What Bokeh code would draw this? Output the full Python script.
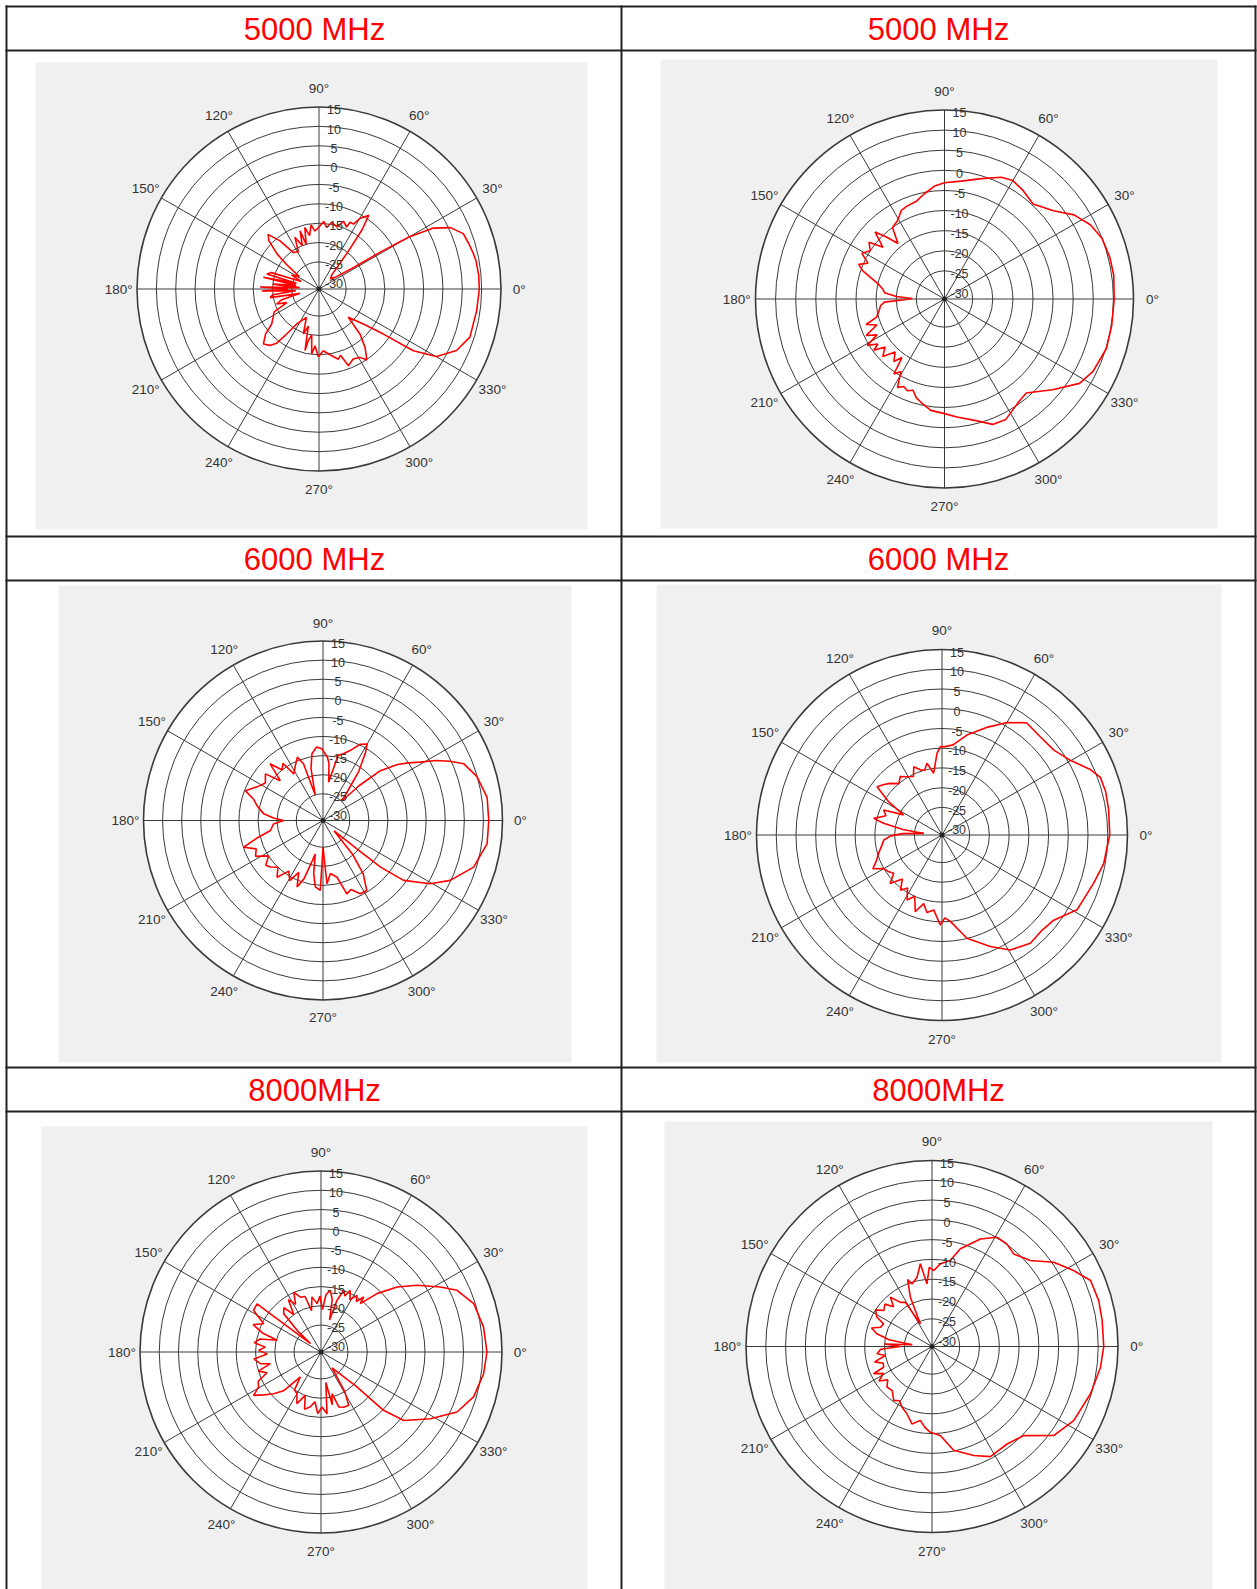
import numpy as np
from bokeh.plotting import figure
from bokeh.models import Range1d
from bokeh.core.properties import value
from bokeh.embed import file_html
from bokeh.resources import INLINE

# ---------------- data ----------------
titles = ["5000 MHz", "5000 MHz", "6000 MHz", "6000 MHz", "8000MHz", "8000MHz"]
ring_db = [15, 10, 5, 0, -5, -10, -15, -20, -25]
rlabel_db = [15, 10, 5, 0, -5, -10, -15, -20, -25, -30]
angle_ticks = [0, 30, 60, 90, 120, 150, 180, 210, 240, 270, 300, 330]
R_MIN, R_MAX = -32, 15

ang_5000_a = [0, 5, 10, 13, 17, 21, 25, 28, 30, 31, 32, 36, 42, 48, 52, 54, 56, 60, 62, 65,
              66, 70, 74, 79, 83, 86, 90, 94, 97, 100, 103, 106, 108, 111, 115, 119, 125, 129, 133, 136,
              140, 143, 148, 153, 157, 161, 164, 166, 168, 171, 174, 176, 178, 180, 182, 184, 187, 190, 193, 196,
              199.5, 203, 207, 212, 216.5, 220, 224.7, 229, 232, 234.3, 237.5, 241.3, 246, 250.8, 254, 257.2, 258.3, 261, 263.6, 266,
              269.4, 274, 279.5, 285.4, 288, 291, 296, 301, 304, 308.3, 312.3, 316, 321.7, 325, 326.8, 330.1, 335.9, 342.3, 352.2, 360]
db_5000_a = [9.4, 9.4, 9.2, 8.9, 8.4, 7.9, 5.5, 1.5, -5, -13, -22, -27, -28, -27, -20, -13, -9, -11, -13, -13,
             -14.5, -13.4, -15.3, -14.5, -16, -14.5, -16, -17, -15.3, -18, -15.7, -20, -16.2, -20, -17.3, -21, -20.5, -16, -12.7, -14,
             -17.8, -21.5, -26, -24, -27, -19, -18, -26, -17.3, -26, -20, -27, -16.8, -24, -17.2, -26, -20, -19.2, -27, -22,
             -20.4, -23, -19, -18, -16.8, -14, -11.8, -12.7, -14.2, -17.7, -21.3, -22.7, -24, -19.7, -22, -15.7, -18.4, -20, -15.1, -17.3,
             -14.5, -16, -14.8, -13.2, -14, -10.8, -11.9, -11.4, -9.9, -12.8, -16.3, -21.5, -17.4, -11.7, -2.9, 3.0, 6.9, 8.9, 9.1, 9.4]

ang_5000_b = [0, 8, 14, 21, 27, 33, 39, 47, 54, 60, 65, 73, 82, 90, 95, 101, 106, 112, 116, 121,
              126, 130, 133, 136, 140, 143, 147, 151, 155, 158, 161, 164, 167, 171, 174, 177, 179, 181, 183, 186,
              190, 195, 198, 201, 205, 208, 211, 214, 216, 219, 223, 227, 231, 234, 236, 239, 242, 245, 248, 251,
              254, 257, 263, 270, 276, 284, 291, 297, 302, 306, 311, 316, 320, 328, 334, 343, 351, 360]
db_5000_b = [10.2, 10.5, 10.4, 10.0, 8.7, 6.4, 2.9, 0.3, 1.3, 2.0, 1.4, -0.7, -2.4, -3.1, -3.8, -5.4, -6.7, -7.1, -7.5, -9.3,
             -10, -14, -11, -8, -12, -8.5, -10, -8.5, -11, -9, -10.5, -13, -15, -16.5, -17, -20, -24, -22, -17, -16,
             -15.5, -14.5, -11.5, -14, -10.5, -13, -9.6, -12, -10.3, -13, -11, -14, -12, -14, -9.5, -11, -7.1, -8, -7.4, -8,
             -6.5, -5.7, -4.1, -3.5, -2.5, -0.9, 1.4, 1.6, 0.3, -0.5, -1.0, 1, 3.1, 7.6, 9.1, 10.1, 10.1, 10.2]

ang_6000_a = [0, 8, 16, 22, 25, 28, 31, 34, 37, 41, 44, 46, 50, 54, 58, 60, 64, 68, 73, 77,
              81.6, 84, 86, 91, 95, 99.4, 103, 107, 109, 112, 117, 122, 125, 129, 133, 137, 141, 147, 153, 159,
              163, 168, 173.6, 177, 180, 184, 190.8, 195, 198.6, 203, 208, 213, 218, 221.5, 226, 231, 236, 241, 245, 248.7,
              252, 255, 257, 260, 263.4, 267.8, 270, 273.6, 278, 283.9, 288, 292, 297, 302, 307, 311, 317, 320, 321, 323.4,
              329.5, 334.8, 342.8, 352, 360]
db_6000_a = [11.4, 11.4, 9.9, 7.7, 4.7, 1.5, -2.3, -5, -7.6, -12.1, -19, -25, -22, -16, -11, -8.9, -9.8, -12, -13.7, -14.5,
             -21.9, -17, -15.4, -13.2, -12.7, -14.3, -18, -25, -16.3, -14.1, -16, -17.6, -13.7, -15, -11.7, -16.7, -12.6, -14, -12.6, -10.2,
             -13, -14.5, -16.4, -19, -21.7, -19, -18, -14, -10.1, -13, -12, -15, -13, -13.6, -15, -12.9, -16, -14, -17, -13.3,
             -16, -21, -23, -18, -14.5, -13.7, -25, -15.4, -18, -16.7, -11.8, -12.5, -10.5, -10.4, -14.5, -20, -28, -20, -12.6, -5.7,
             0.6, 4.8, 9.3, 11.4, 11.4]

ang_6000_b = [0, 8.5, 15, 20, 24, 30, 37, 45, 53, 60, 67, 76, 83, 88, 91, 93.5, 97.7, 101.8, 105, 108.4,
              112.5, 116, 121, 125.5, 130, 135, 139, 143.4, 148, 152.4, 156.8, 161, 166.3, 168.7, 172, 175, 178, 181, 184.9, 190,
              196, 202, 206, 210, 214, 218.4, 223, 228, 233, 237, 241.7, 246, 250.8, 255, 259, 263.7, 268.9, 272, 275.5, 283.6,
              293.4, 300.7, 309.2, 316, 322.7, 331, 342.3, 350, 360]
db_6000_b = [10.5, 10.7, 10.9, 10.7, 9.0, 5.7, 3.6, 3.2, 3.6, 0.9, -2.3, -5.9, -9.0, -9.6, -9.6, -11.3, -16.2, -13.4, -15, -14.6,
             -13.3, -15.5, -14.8, -13.8, -15, -13.5, -12.5, -11.5, -16, -21, -15.9, -17, -14.2, -16.9, -22, -27.4, -22, -19, -17.2, -16.5,
             -15.3, -14, -12.5, -15, -15.5, -16.4, -14, -17, -14.5, -16, -13.3, -15, -11.4, -14, -12, -12.9, -9.2, -11, -10, -5.1,
             -1.2, 1.9, 3.4, 3.0, 3.6, 7.1, 8.3, 9.6, 10.5]

ang_8000_a = [0, 8.7, 17.6, 24.4, 28.6, 34.8, 40.5, 46.2, 50.9, 52.2, 55, 57.6, 61, 64.6, 67, 69.8, 72.8, 75, 78, 81.4,
              85, 88, 91, 94.7, 99.3, 103, 106, 110.6, 114.5, 118, 122, 126, 130, 134.2, 138, 141, 143, 148.3, 153.7, 158,
              162, 165, 168, 172, 175, 178.5, 182, 186, 190.9, 193, 197, 201, 205, 209.3, 212.8, 217, 221.4, 226, 230.4, 235,
              240, 245, 250, 254, 259, 263, 267, 271, 275.6, 279, 282, 284.8, 288, 292.4, 297.4, 301, 305, 310, 315.8, 317,
              320.4, 328.6, 336.2, 343.6, 352.4, 360]
db_8000_a = [11.1, 10.7, 9.6, 6.8, 3.3, -1.6, -6.0, -11.0, -15.8, -13.9, -16, -14.6, -16.5, -14.3, -16.2, -14.9, -18, -23.4, -18, -15.8,
             -17, -21, -17.5, -19.4, -17.5, -21, -17, -16.8, -14.9, -18, -16, -20, -17, -18.1, -24, -28.5, -11.2, -11.4, -15.4, -13,
             -16, -20.2, -15.8, -14.5, -17.5, -15.8, -18, -14.5, -16, -18.5, -15, -17, -14, -13.4, -11.2, -13.5, -15.6, -18, -23.6, -20,
             -19.5, -17.2, -20, -16.5, -17.5, -19, -16, -17.7, -15.9, -24, -18, -20.8, -17, -16.5, -16.4, -20, -27, -25, -19, -9.8,
             -4.1, 1.3, 6.6, 9.3, 10.6, 11.1]

ang_8000_b = [0, 8.7, 15.4, 22.6, 28.2, 34.7, 41.2, 48.6, 53.9, 59.3, 65.8, 73.8, 78, 84.2, 88.7, 92, 94.6, 98, 102.2, 107.7,
              110, 113.7, 117.2, 121, 125.5, 130.2, 134, 138, 143.3, 147, 151.9, 155, 159.5, 163, 167, 171, 175, 177, 180, 183,
              187.6, 191, 195, 199, 203.2, 205, 209, 213, 217, 222, 228, 234.6, 239, 243.7, 249, 255.5, 261, 265, 268.9, 275.3,
              281.8, 291, 297.9, 307.6, 315.8, 323.8, 332.4, 343.4, 353, 360]
db_8000_b = [11.4, 11.5, 11.7, 11.4, 8.6, 5.4, 1.0, -0.8, 0.1, 0.1, -2.2, -6.3, -9.8, -11, -12.8, -12, -16.1, -10.9, -14.1, -15.4,
             -14, -18.4, -25.6, -19, -18.3, -15.7, -18, -16, -16.8, -15, -16.2, -18.5, -18.1, -16, -17.7, -21, -27, -20, -24, -19,
             -18, -20, -17, -19, -18.7, -15.7, -18, -16, -18, -16.7, -17, -15.3, -16, -14.9, -14, -11.8, -13.1, -11.5, -10.3, -9.4,
             -5.2, -2.5, -0.5, -0.9, 0.3, 6.1, 8.4, 9.8, 10.9, 11.4]

patterns = [(ang_5000_a, db_5000_a), (ang_5000_b, db_5000_b),
            (ang_6000_a, db_6000_a), (ang_6000_b, db_6000_b),
            (ang_8000_a, db_8000_a), (ang_8000_b, db_8000_b)]

# ---------------- layout (page pixels) ----------------
W, H = 1257, 1589
OX, OY = 0, 0
FONT = value("Liberation Sans")

col_x = [6, 621, 1255]
row_y = [6, 50, 536, 580, 1067, 1111]
header_cy = [29, 559, 1090]
col_cx = [314, 938]
panels = [(35, 587, 62, 529), (660, 1217, 59, 528),
          (58, 571, 585, 1062), (656, 1221, 584, 1062),
          (41, 587, 1126, 1600), (664, 1212, 1121, 1600)]
polar_geo = [(318.5, 288.5, 182), (944, 298.5, 189),
             (322.5, 820, 179.5), (941.5, 834.5, 185.5),
             (320.5, 1351.5, 181), (931.5, 1346, 186)]

p = figure(width=W, height=H, x_range=Range1d(OX, OX + W), y_range=Range1d(OY + H, OY),
           output_backend="svg", toolbar_location=None, min_border=0,
           x_axis_location=None, y_axis_location=None)
p.outline_line_color = None
p.background_fill_color = "white"
p.border_fill_color = "white"
p.xgrid.visible = False
p.ygrid.visible = False

# gray panels
p.quad(left=[b[0] for b in panels], right=[b[1] for b in panels],
       top=[b[2] for b in panels], bottom=[b[3] for b in panels],
       fill_color="#f0f0f0", line_color=None)

GRID = "#3a3a3a"
TXT = "#333333"
span = R_MAX - R_MIN

for k, ((cx, cy, R), (ang, db)) in enumerate(zip(polar_geo, patterns)):
    s = R / span  # px per dB unit
    name = f"polar{k}"
    p.extra_x_ranges[name] = Range1d((OX - cx) / s, (OX + W - cx) / s)
    p.extra_y_ranges[name] = Range1d((cy - OY - H) / s, (cy - OY) / s)
    kw = dict(x_range_name=name, y_range_name=name)

    # white disc
    p.circle(x=[0], y=[0], radius=span, fill_color="white", line_color=None, **kw)
    # rings
    radii = [v - R_MIN for v in ring_db]
    widths = [1.6 if v == R_MAX else 1.0 for v in ring_db]
    p.circle(x=[0] * len(radii), y=[0] * len(radii), radius=radii,
             fill_color=None, line_color=GRID, line_width=widths, **kw)
    # spokes
    th = np.deg2rad(angle_ticks[:6])
    p.segment(x0=-span * np.cos(th), y0=-span * np.sin(th),
              x1=span * np.cos(th), y1=span * np.sin(th),
              line_color=GRID, line_width=1.0, **kw)
    p.scatter(x=[0], y=[0], size=4, color="#222222", **kw)

    # pattern
    n = min(len(ang), len(db))
    a = np.deg2rad(np.array(ang[:n], dtype=float))
    r = np.clip(np.array(db[:n], dtype=float) - R_MIN, 0, None)
    p.line(x=r * np.cos(a), y=r * np.sin(a), line_color="#ff0000", line_width=1.6, **kw)

    # angle labels
    ta = np.deg2rad(angle_ticks)
    p.text(x=1.1 * span * np.cos(ta), y=1.1 * span * np.sin(ta),
           text=[f"{t}°" for t in angle_ticks], text_font=FONT, text_font_size="13.5px",
           text_color=TXT, text_align="center", text_baseline="middle", **kw)
    # radial labels
    p.text(x=[15 / s] * len(rlabel_db), y=[(v - R_MIN) - 2.7 / s for v in rlabel_db],
           text=[str(v) for v in rlabel_db], text_font=FONT, text_font_size="12.5px",
           text_color=TXT, text_align="center", text_baseline="middle", **kw)

# table borders
p.segment(x0=[col_x[0] - 1] * len(row_y), x1=[col_x[-1] + 1] * len(row_y), y0=row_y, y1=row_y,
          line_color="#222222", line_width=2)
p.segment(x0=col_x, x1=col_x, y0=[row_y[0] - 1] * 3, y1=[OY + H + 20] * 3,
          line_color="#222222", line_width=2)

# headers
hx, hy = [], []
for i in range(len(titles)):
    hx.append(col_cx[i % 2])
    hy.append(header_cy[i // 2])
p.text(x=hx, y=hy, text=titles, text_font=FONT, text_font_size="31px",
       text_color="#ff0000", text_align="center", text_baseline="middle")

open("out.html", "w").write(file_html(p, INLINE))
